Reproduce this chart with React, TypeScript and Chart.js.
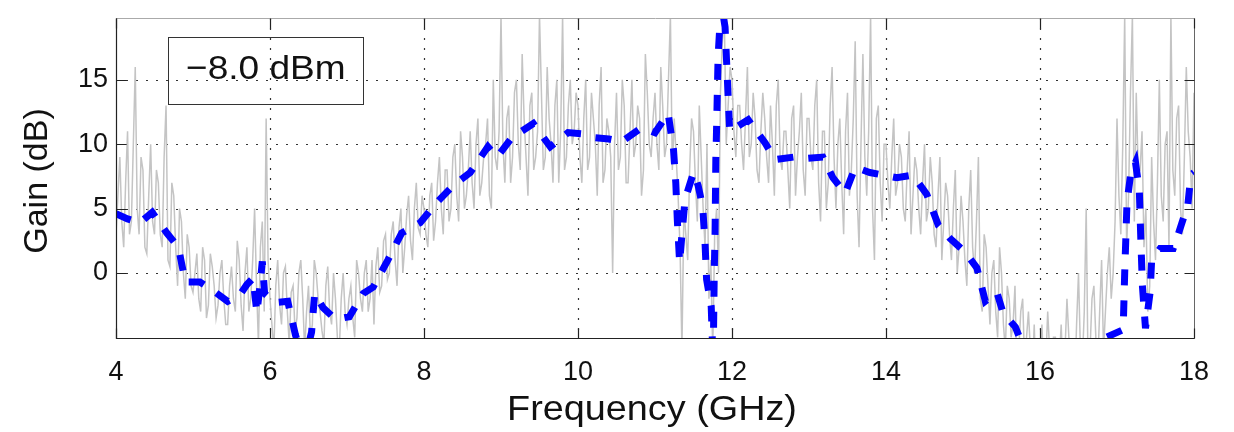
import React, { useEffect, useRef } from "react";
import { Chart, registerables } from "chart.js";

Chart.register(...registerables);

// ---- data ----
const xTicks = [4, 6, 8, 10, 12, 14, 16, 18];
const yTicks = [0, 5, 10, 15];
const xMin = 4;
const xMax = 18;
const yMin = -5.05;
const yMax = 19.8;

// measured gain, sampled every 0.05 GHz from 4.00 GHz
const greyStart = 4;
const greyStep = 0.05;
const greyGain = [
  // 4.00 - 4.95
  3, 9, 2, 11, 4, 16, 3, 8, 1.5, 10, 3, 7, 2, 13, 0.5, 6, -1, 4, -2, 2,
  // 5.00 - 5.95
  -1.5, 1.5, -3, 1, -2.5, 0.5, -3.5, 0, -2, -4, 0.5, -3, 1, -4.5, 2, -2, 5, -5.5, 4, 12,
  // 6.00 - 6.95
  -2, -6, 1, -4, 0.5, -5.5, -1, -3.5, 1, -6, -1, -4, 0, -3, -5.5, 0.5, -4, -2, -6, 0,
  // 7.00 - 7.95
  -4, -1, -5, 0, -3, 1, -2, -4, 2, -1, 3, 0, 4, -1, 5, 2, 6, 1, 7, 3,
  // 8.00 - 8.95
  5, 2, 7, 4, 9, 3, 8, 5, 10, 4, 9, 6, 11, 5, 12, 7, 10, 6, 15, 8,
  // 9.00 - 9.95
  20, 7, 13, 9, 15, 8, 12, 6, 14, 9, 20, 8, 16, 10, 13, 7, 20, 9, 15, 11,
  // 10.00 - 10.95
  13, 7, 15, 9, 12, 6, 16, 8, 11, 0, 14, 9, 13, 7, 15, 10, 12, 8, 14, 9,
  // 11.00 - 11.95
  14, 8, 13, 10, 20, 12, 6, -6, 3, 8, 11, 4, 9, 2, -2, -6, 5, 14, 20, 13,
  // 12.00 - 12.95
  15, 9, 13, 8, 16, 10, 12, 7, 14, 9, 13, 6, 15, 8, 11, 5, 13, 9, 14, 6,
  // 13.00 - 13.95
  12, 8, 15, 4, 11, 7, 16, 5, 12, 3, 14, 8, 18, 2, 17, 6, 20, 1, 13, 4,
  // 14.00 - 14.95
  10, 5, 12, 7, 9, 4, 11, 6, 8, 3, 10, 5, 7, 2, 9, 4, 6, 1, 8, 2,
  // 15.00 - 15.95
  4, -1, 8, 0, 9, -3, 2, -4, 1, -5, 0, -6, -2, -4, -8, -3, -7, -3, -8, -9,
  // 16.00 - 16.95
  -6, -8, -3, -9, -5, -7, -8, -2, -6, -9, 0, -7, 5, -6, -1, -7, 1, -3, 2, 0,
  // 17.00 - 17.95
  12, 3, 20, 6, 20, 14, 8, 2, -3, 9, 1, 15, 4, 11, 20, 6, 13, 3, 16, 9,
  // 18.00
  14,
];

// measured gain at the in-between samples 4.025, 4.075, ... 17.975 GHz
const greyGainMid = [
  // 4.025 - 4.975
  6, 4, 7, 3, 10, 5, 9, 2, 6, 4, 8, 3, 9, 1, 7, 2, 5, 0, 3, -1,
  // 5.025 - 5.975
  0, -2, 2, -3.5, 1.5, -1, -2.5, 1, -4, -1, -2, 2.5, -2.5, 0, -3, 1, -1, 2, -3, 1,
  // 6.025 - 6.975
  -4, -1, -2.5, 0, -3, -1.5, -4.5, 0, -2, -3, -5, 1, -2, -4.5, -1, -3, 0, -5, -2, -3,
  // 7.025 - 7.975
  -2, -3.5, 1, -2, 0, -3, 1, 0.5, -1.5, 2.5, -0.5, 3, 1, 3.5, 0, 4.5, 2.5, 5, 3.5, 6,
  // 8.025 - 8.975
  3, 6, 2.5, 7, 5, 8, 4, 9, 6, 11, 5, 8, 7, 10, 6, 9, 12, 5, 9, 11,
  // 9.025 - 9.975
  10, 12, 7, 14, 10, 17, 9, 13, 8, 11, 14, 9, 12, 7, 15, 11, 8, 13, 10, 14,
  // 10.025 - 10.975
  9, 12, 8, 14, 10, 13, 7, 12, 9, 10, 8, 15, 7, 11, 9, 13, 6, 17, 10, 12,
  // 11.025 - 11.975
  10, 16, 9, 15, 8, 9, 2, 5, 1, 12, 7, 13, 5, 10, 1, 3, 0, 18, 10, 16,
  // 12.025 - 12.975
  11, 13, 10, 12, 9, 14, 8, 11, 12, 7, 10, 13, 9, 11, 8, 12, 6, 11, 8, 12,
  // 13.025 - 13.975
  9, 13, 7, 11, 5, 13, 9, 10, 7, 11, 6, 12, 6, 10, 9, 11, 5, 12, 7, 10,
  // 14.025 - 14.975
  7, 9, 6, 10, 5, 8, 3, 9, 5, 7, 4, 9, 3, 6, 1, 7, 3, 5, 0, 6,
  // 15.025 - 15.975
  1, 5, 2, 4, -2, 3, -1, 0, -3, 2, -4, -1, -5, -1, -6, -2, -5, -6, -4, -7,
  // 16.025 - 16.975
  -4, -7, -6, -5, -8, -4, -6, -5, -8, -4, -6, -3, -8, -2, -5, -3, -6, 0, -2, 4,
  // 17.025 - 17.975
  6, 10, 2, 14, 4, 8, 11, 5, -1, 4, 7, 6, 10, 2, 8, 12, 5, 9, 11, 5,
];

// simulated / fitted gain (blue dashed)
const blueFreq = [
  4.0, 4.15, 4.31, 4.47, 4.66, 4.81, 4.9, 5.09, 5.29, 5.45, 5.61, 5.7, 5.78, 5.83, 5.87, 5.9, 5.93,
  6.06, 6.23, 6.33, 6.44, 6.54, 6.58, 6.69, 6.85, 7.03, 7.21, 7.34, 7.53, 7.71, 7.95, 8.17, 8.38,
  8.6, 8.83, 8.95, 9.14, 9.42, 9.64, 9.87, 10.05, 10.22, 10.4, 10.57, 10.83, 11.0, 11.17, 11.24,
  11.27, 11.29, 11.32, 11.35, 11.39, 11.5, 11.56, 11.62, 11.65, 11.67, 11.73, 11.755, 11.77, 11.78,
  11.785, 11.79, 11.8, 11.81, 11.82, 11.86, 11.91, 11.93, 11.95, 11.97, 12.21, 12.43, 12.56, 12.8,
  12.99, 13.18, 13.31, 13.47, 13.6, 13.79, 14.14, 14.35, 14.53, 14.68, 14.83, 15.03, 15.18, 15.29,
  15.44, 15.52, 15.68, 15.8, 16.3, 16.82, 17.08, 17.1, 17.13, 17.18, 17.24, 17.29, 17.31, 17.33,
  17.37, 17.43, 17.45, 17.56, 17.73, 17.8, 17.92, 17.96, 18.0,
];
const blueGain = [
  4.6, 4.2, 3.9, 4.7, 3.1, 2.0, -0.7, -0.7, -1.5, -2.2, -1.7, -0.9, -0.4, -3.1, -1.0, 0.9, -1.6,
  -2.3, -2.2, -4.8, -7, -4.6, -1.6, -2.7, -3.6, -3.4, -1.6, -1.1, 1.0, 3.1, 3.9, 5.5, 6.8,
  7.8, 9.8, 9.0, 10.5, 11.6, 9.8, 10.9, 10.8, 10.5, 10.4, 10.2, 11.3, 10.9, 12.4, 9.6,
  7.0, 4.1, 0.8, 3.0, 5.7, 7.8, 6.8, 5.1, 2.3, -0.5, -2.6, -7, 0.2, 3.1,
  5.9, 8.8, 11.3, 14.2, 16.9, 21, 19.1, 16.4, 13.7, 11.0, 11.9, 10.1, 8.8, 9.0,
  8.9, 9.0, 7.4, 6.2, 8.2, 7.8, 7.4, 7.6, 6.1, 3.7, 2.7, 1.6, 0.4, -2.2,
  -1.5, -3.1, -4.2, -6, -9, -5.1, -4.4, 0, 5.5, 7.8, 8.6, 6.4, 2.5, -1.0,
  -4.3, -1.5, 1.0, 1.9, 1.9, 3.1, 5.3, 7.6, 7.8,
];

const legendText = "\u22128.0 dBm";
const xTitle = "Frequency (GHz)";
const yTitle = "Gain (dB)";

const FONT = "'Liberation Sans', Arial, sans-serif";

const framePlugin = {
  id: "matlabFrame",
  beforeDatasetsDraw(chart: any) {
    const { ctx, chartArea: a, scales } = chart;
    ctx.save();
    ctx.strokeStyle = "#333";
    ctx.lineWidth = 1.2;
    ctx.setLineDash([2, 8]);
    for (const v of xTicks) {
      if (v === xMin || v === xMax) continue;
      const px = Math.round(scales.x.getPixelForValue(v)) + 0.5;
      ctx.beginPath();
      ctx.moveTo(px, a.top);
      ctx.lineTo(px, a.bottom);
      ctx.stroke();
    }
    for (const v of yTicks) {
      const py = Math.round(scales.y.getPixelForValue(v)) + 0.5;
      ctx.beginPath();
      ctx.moveTo(a.left, py);
      ctx.lineTo(a.right, py);
      ctx.stroke();
    }
    ctx.restore();
  },
  afterDatasetsDraw(chart: any) {
    const { ctx, chartArea: a, scales } = chart;
    ctx.save();
    ctx.setLineDash([]);
    const L = Math.round(a.left) + 0.5;
    const R = Math.round(a.right) + 0.5;
    const T = Math.round(a.top) + 0.5;
    const B = Math.round(a.bottom) + 0.5;
    ctx.lineWidth = 1;
    ctx.strokeStyle = "#aaa";
    ctx.beginPath();
    ctx.moveTo(L, T);
    ctx.lineTo(R, T);
    ctx.stroke();
    ctx.strokeStyle = "#666";
    ctx.beginPath();
    ctx.moveTo(R, T);
    ctx.lineTo(R, B);
    ctx.stroke();
    ctx.strokeStyle = "#222";
    ctx.lineWidth = 1.2;
    ctx.beginPath();
    ctx.moveTo(L, T);
    ctx.lineTo(L, B);
    ctx.lineTo(R, B);
    ctx.stroke();
    const tl = 10;
    for (const v of xTicks) {
      const px = Math.round(scales.x.getPixelForValue(v)) + 0.5;
      ctx.beginPath();
      ctx.moveTo(px, B);
      ctx.lineTo(px, B - tl);
      ctx.moveTo(px, T);
      ctx.lineTo(px, T + tl);
      ctx.stroke();
    }
    for (const v of yTicks) {
      const py = Math.round(scales.y.getPixelForValue(v)) + 0.5;
      ctx.beginPath();
      ctx.moveTo(L, py);
      ctx.lineTo(L + tl, py);
      ctx.moveTo(R, py);
      ctx.lineTo(R - tl, py);
      ctx.stroke();
    }
    // legend-like box
    ctx.strokeStyle = "#333";
    ctx.lineWidth = 1;
    ctx.strokeRect(168.5, 37.5, 195, 67);
    ctx.fillStyle = "#111";
    ctx.textBaseline = "alphabetic";
    ctx.save();
    ctx.translate(186, 79);
    ctx.scale(1.09, 1);
    ctx.font = `34px ${FONT}`;
    ctx.textAlign = "left";
    ctx.fillText(legendText, 0, 0);
    ctx.restore();
    // axis titles
    ctx.save();
    ctx.translate(652, 420);
    ctx.scale(1.08, 1);
    ctx.font = `35px ${FONT}`;
    ctx.textAlign = "center";
    ctx.fillText(xTitle, 0, 0);
    ctx.restore();
    ctx.save();
    ctx.translate(47, 181);
    ctx.rotate(-Math.PI / 2);
    ctx.font = `34px ${FONT}`;
    ctx.textAlign = "center";
    ctx.fillText(yTitle, 0, 0);
    ctx.restore();
    ctx.restore();
  },
};

export default function App() {
  const ref = useRef<HTMLCanvasElement | null>(null);
  useEffect(() => {
    document.body.style.margin = "0";
    document.body.style.background = "#fff";
    const canvas = ref.current;
    if (!canvas) return;
    const greyData: { x: number; y: number }[] = [];
    greyGain.forEach((g, i) => {
      greyData.push({ x: greyStart + i * greyStep, y: g });
      if (i < greyGainMid.length) {
        greyData.push({ x: greyStart + (i + 0.5) * greyStep, y: greyGainMid[i] });
      }
    });
    const blueData = blueFreq.map((f, i) => ({ x: f, y: blueGain[i] }));
    const chart = new Chart(canvas, {
      type: "line",
      data: {
        datasets: [
          {
            label: "model",
            data: blueData,
            borderColor: "#0000ff",
            borderWidth: 7,
            borderDash: [16, 15],
            borderCapStyle: "butt",
            pointRadius: 0,
            tension: 0,
            fill: false,
          },
          {
            label: "measured",
            data: greyData,
            borderColor: "#c4c4c4",
            borderWidth: 1.5,
            pointRadius: 0,
            tension: 0,
            fill: false,
          },
        ],
      },
      options: {
        animation: false,
        responsive: false,
        maintainAspectRatio: false,
        layout: { padding: { top: 18, right: 40, left: 0, bottom: 0 } },
        plugins: {
          legend: { display: false },
          tooltip: { enabled: false },
        },
        scales: {
          x: {
            type: "linear",
            min: xMin,
            max: xMax,
            afterBuildTicks: (s: any) => {
              s.ticks = xTicks.map((v) => ({ value: v }));
            },
            afterFit: (s: any) => {
              s.height = 94;
              s.paddingLeft = 0;
              s.paddingRight = 0;
            },
            ticks: {
              font: { family: FONT, size: 27 },
              color: "#111",
              padding: 18,
              maxRotation: 0,
              autoSkip: false,
            },
            grid: { display: false, drawTicks: false },
            border: { display: false },
          },
          y: {
            type: "linear",
            min: yMin,
            max: yMax,
            afterBuildTicks: (s: any) => {
              s.ticks = yTicks.map((v) => ({ value: v }));
            },
            afterFit: (s: any) => {
              s.width = 116;
              s.paddingTop = 0;
              s.paddingBottom = 0;
            },
            ticks: {
              font: { family: FONT, size: 27 },
              color: "#111",
              padding: 8,
              autoSkip: false,
            },
            grid: { display: false, drawTicks: false },
            border: { display: false },
          },
        },
      },
      plugins: [framePlugin],
    });
    return () => chart.destroy();
  }, []);
  return (
    <div style={{ width: 1234, height: 432, background: "#fff" }}>
      <canvas ref={ref} width={1234} height={432} style={{ display: "block" }} />
    </div>
  );
}
